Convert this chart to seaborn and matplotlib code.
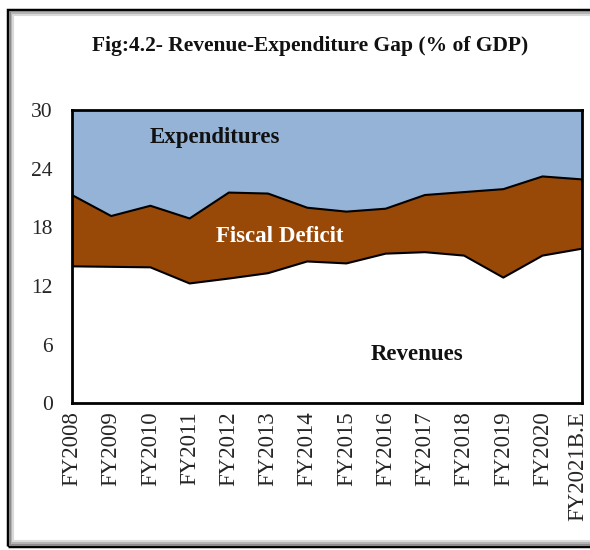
import numpy as np
import pandas as pd
import matplotlib.pyplot as plt
import matplotlib.transforms as mtransforms
import seaborn as sns
from matplotlib.patches import Rectangle
from matplotlib.lines import Line2D

years = ["FY2008", "FY2009", "FY2010", "FY2011", "FY2012", "FY2013", "FY2014",
         "FY2015", "FY2016", "FY2017", "FY2018", "FY2019", "FY2020", "FY2021B.E"]
revenues = [14.0, 13.95, 13.9, 12.25, 12.75, 13.3, 14.5, 14.3, 15.3, 15.45, 15.1, 12.85, 15.1, 15.8]
expenditures = [21.3, 19.15, 20.2, 18.9, 21.55, 21.45, 20.0, 19.6, 19.9, 21.3, 21.6, 21.9, 23.2, 22.9]

df = pd.DataFrame({"year": years, "x": range(len(years)),
                   "Revenues": revenues, "Expenditures": expenditures})

sns.set_style("white")
plt.rcParams["font.family"] = ["Liberation Serif", "DejaVu Serif"]

fig = plt.figure(figsize=(5.9, 5.5), dpi=100)
ax = fig.add_axes([0.122, 0.267, 0.864, 0.533])

# filled areas
ax.fill_between(df["x"], 0, 30, color="#95B3D7", zorder=1)
ax.fill_between(df["x"], df["Revenues"], df["Expenditures"], color="#984807", zorder=2)
ax.fill_between(df["x"], 0, df["Revenues"], color="white", zorder=2)
sns.lineplot(data=df, x="x", y="Revenues", color="black", linewidth=1.5, ax=ax, zorder=3)
sns.lineplot(data=df, x="x", y="Expenditures", color="black", linewidth=1.5, ax=ax, zorder=3)

ax.set_xlim(0, len(years) - 1)
ax.set_ylim(0, 30)
ax.set_yticks(range(0, 31, 6))
ax.set_xticks(df["x"])
ax.set_xticklabels(years, rotation=90, fontsize=16.5)
ax.tick_params(axis="y", labelsize=15.5, length=0, pad=14)
ax.tick_params(axis="x", length=0, pad=6)
ax.set_xlabel("")
ax.set_ylabel("")
for s in ax.spines.values():
    s.set_visible(True)
    s.set_color("black")
    s.set_linewidth(2)
    s.set_zorder(5)

# nudge the last label so it stays inside the picture
last = ax.get_xticklabels()[-1]
last.set_transform(last.get_transform() + mtransforms.ScaledTranslation(-4 / 100, 0, fig.dpi_scale_trans))

ax.text(3.65, 27.2, "Expenditures", ha="center", va="center", fontsize=16.5, fontweight="bold", color="#111111", zorder=4)
ax.text(5.3, 17.1, "Fiscal Deficit", ha="center", va="center", fontsize=16.5, fontweight="bold", color="white", zorder=4)
ax.text(8.8, 5.0, "Revenues", ha="center", va="center", fontsize=16.5, fontweight="bold", color="#111111", zorder=4)

fig.text(0.525, 0.916, "Fig:4.2- Revenue-Expenditure Gap (% of GDP)", ha="center", va="center",
         fontsize=15.5, fontweight="bold", color="#111111")

# figure frame with shadow
fig.add_artist(Rectangle((0.014, 0.007), 1.2, 0.975, transform=fig.transFigure,
                         fill=False, edgecolor="black", linewidth=2.5))
for i, g in enumerate([0.55, 0.7, 0.85]):
    off = (i + 1) * 0.003
    fig.add_artist(Line2D([0.014 + off * 550 / 590, 0.014 + off * 550 / 590], [0.007 + off, 0.982 - off],
                          transform=fig.transFigure, color=str(g), linewidth=1.5))
    fig.add_artist(Line2D([0.014 + off * 550 / 590, 1.0], [0.982 - off, 0.982 - off],
                          transform=fig.transFigure, color=str(g), linewidth=1.5))
    fig.add_artist(Line2D([0.014 + off * 550 / 590, 1.0], [0.007 + off, 0.007 + off],
                          transform=fig.transFigure, color=str(g), linewidth=1.5))

fig.savefig("out.png", dpi=100)
